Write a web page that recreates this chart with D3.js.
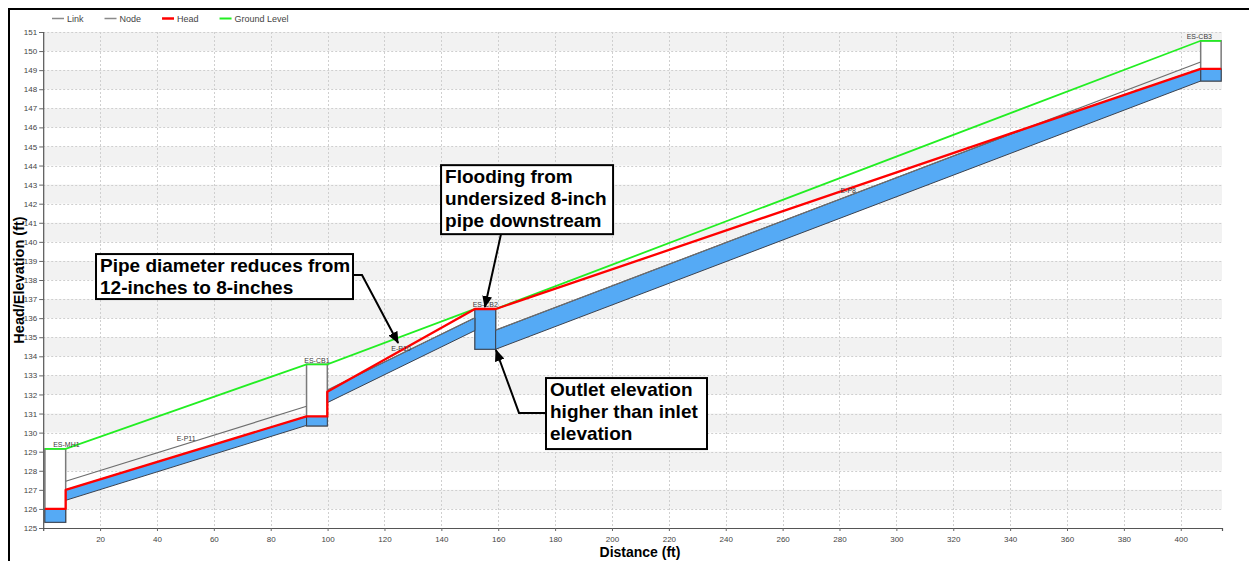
<!DOCTYPE html>
<html>
<head>
<meta charset="utf-8">
<script src="https://cdn.jsdelivr.net/npm/d3@7/dist/d3.min.js"></script>
<style>
  html, body { margin: 0; padding: 0; background: #fff; }
  svg { display: block; font-family: "Liberation Sans", Arial, sans-serif; }
</style>
</head>
<body>
<svg id="chart" width="1249" height="561"></svg>
<script>
// ---- Profile data (distance in ft, elevations in ft) ----
const nodeNames  = ["ES-MH1", "ES-CB1", "ES-CB2", "ES-CB3"];
const nodeStart  = [0.6, 92.6, 151.8, 407.0];
const nodeEnd    = [7.9, 99.9, 159.1, 414.2];
const nodeInvert = [125.3, 130.35, 134.37, 148.43];
const nodeRim    = [129.15, 133.58, 136.48, 150.54];
const nodeHead   = [126.0, 130.85, 136.48, 149.07];

// Links run from the end of node i to the start of node i+1
const linkNames     = ["E-P11", "E-P10", "E-P8"];
const linkInvertIn  = [126.45, 131.57, 134.37];
const linkInvertOut = [130.38, 135.35, 148.43];
const linkDiameter  = [1.0, 0.667, 1.0];   // 12", 8", 12"
const linkHeadIn    = [127.0, 132.14, 136.48];
const linkHeadOut   = [130.85, 136.48, 149.07];

const yTicks = d3.range(125, 152, 1);
const xTicks = d3.range(20, 401, 20);
const xDomain = [0, 414.5];
const yDomain = [125, 151];

const legendItems = [
  { label: "Link",         color: "#8a8a8a", width: 1.5 },
  { label: "Node",         color: "#8a8a8a", width: 1.5 },
  { label: "Head",         color: "#ff0000", width: 2.5 },
  { label: "Ground Level", color: "#22ee22", width: 2 }
];

// Callouts: anchored in chart units (ft); box sizes in px
const notes = [
  { lines: ["Pipe diameter reduces from", "12-inches to 8-inches"],
    at: [18.57, 139.36], w: 257, h: 45, from: "right",
    route: [[112.1, 138.26], [124.8, 134.70]] },
  { lines: ["Flooding from", "undersized 8-inch", "pipe downstream"],
    at: [139.9, 144.02], w: 172, h: 69, from: "bottom",
    route: [[160.97, null], [155.3, 136.58]] },
  { lines: ["Outlet elevation", "higher than inlet", "elevation"],
    at: [176.8, 132.86], w: 161, h: 71, from: "left",
    route: [[167.3, 131.03], [159.2, 134.33]] }
];

// ---- Layout ----
const svg = d3.select("#chart");
const plot = { left: 43.2, right: 1222, top: 32, bottom: 528 };

const x = d3.scaleLinear().domain(xDomain).range([plot.left, plot.right]);
const y = d3.scaleLinear().domain(yDomain).range([plot.bottom, plot.top]);

const BLUE = "#55aaf5";

// outer frame
svg.append("rect")
  .attr("x", 9).attr("y", 9).attr("width", 1300).attr("height", 600)
  .attr("fill", "none").attr("stroke", "#000").attr("stroke-width", 2);

// alternating row bands
const bands = d3.range(126, 151, 2);
svg.append("g").selectAll("rect").data(bands).join("rect")
  .attr("x", plot.left).attr("width", plot.right - plot.left)
  .attr("y", d => y(d + 1)).attr("height", d => y(d) - y(d + 1))
  .attr("fill", "#f2f2f2");

// grid
const grid = svg.append("g").attr("stroke", "#cfcfcf").attr("stroke-width", 1)
  .attr("stroke-dasharray", "2,2");
grid.selectAll(".h").data(yTicks.slice(1)).join("line")
  .attr("x1", plot.left).attr("x2", plot.right)
  .attr("y1", d => Math.round(y(d)) + 0.5).attr("y2", d => Math.round(y(d)) + 0.5);
grid.selectAll(".v").data(xTicks).join("line")
  .attr("y1", plot.top).attr("y2", plot.bottom)
  .attr("x1", d => Math.round(x(d)) + 0.5).attr("x2", d => Math.round(x(d)) + 0.5);

// ---- Build link geometry ----
const links = linkNames.map((name, i) => ({
  name, x0: nodeEnd[i], x1: nodeStart[i + 1],
  inv0: linkInvertIn[i], inv1: linkInvertOut[i],
  crown0: linkInvertIn[i] + linkDiameter[i], crown1: linkInvertOut[i] + linkDiameter[i],
  head0: linkHeadIn[i], head1: linkHeadOut[i]
}));

// water surface inside a pipe is the lower of head and crown
function fillPolygon(l) {
  const top = [];
  const d0 = l.head0 - l.crown0, d1 = l.head1 - l.crown1;
  top.push([l.x0, Math.min(l.head0, l.crown0)]);
  if (d0 * d1 < 0) {
    const t = d0 / (d0 - d1);
    top.push([l.x0 + t * (l.x1 - l.x0), l.crown0 + t * (l.crown1 - l.crown0)]);
  }
  top.push([l.x1, Math.min(l.head1, l.crown1)]);
  return top.concat([[l.x1, l.inv1], [l.x0, l.inv0]]);
}

const nodes = nodeNames.map((name, i) => ({
  name, x0: nodeStart[i], x1: nodeEnd[i],
  inv: nodeInvert[i], rim: nodeRim[i], head: nodeHead[i]
}));

// node boxes
svg.append("g").selectAll("rect").data(nodes).join("rect")
  .attr("x", d => x(d.x0)).attr("width", d => x(d.x1) - x(d.x0))
  .attr("y", d => y(d.rim)).attr("height", d => y(d.inv) - y(d.rim))
  .attr("fill", "#fff").attr("stroke", "#7a7a7a").attr("stroke-width", 1.5);

// water in nodes
svg.append("g").selectAll("rect").data(nodes).join("rect")
  .attr("x", d => x(d.x0)).attr("width", d => x(d.x1) - x(d.x0))
  .attr("y", d => y(Math.min(d.head, d.rim)))
  .attr("height", d => y(d.inv) - y(Math.min(d.head, d.rim)))
  .attr("fill", BLUE).attr("stroke", "#3a4250").attr("stroke-width", 1);

// water in pipes
const lineGen = d3.line().x(d => x(d[0])).y(d => y(d[1]));
svg.append("g").selectAll("path").data(links).join("path")
  .attr("d", d => lineGen(fillPolygon(d)) + "Z")
  .attr("fill", BLUE).attr("stroke", "#3a4250").attr("stroke-width", 1);

// pipe crowns (Link)
svg.append("g").selectAll("line").data(links).join("line")
  .attr("x1", d => x(d.x0)).attr("x2", d => x(d.x1))
  .attr("y1", d => y(d.crown0)).attr("y2", d => y(d.crown1))
  .attr("stroke", "#6e6e6e").attr("stroke-width", 1.2);

// ground level along node rims
const groundPts = [];
nodes.forEach(n => { groundPts.push([n.x0, n.rim]); groundPts.push([n.x1, n.rim]); });
svg.append("path").attr("d", lineGen(groundPts))
  .attr("fill", "none").attr("stroke", "#22ee22").attr("stroke-width", 1.8);

// hydraulic grade (Head): steps up/down at node edges to meet each pipe
const headPath = [];
nodes.forEach((n, i) => {
  headPath.push([n.x0, i > 0 ? links[i - 1].head1 : n.head]);
  headPath.push([n.x0, n.head]);
  headPath.push([n.x1, n.head]);
  if (i < links.length) headPath.push([links[i].x0, links[i].head0]);
});
svg.append("path").attr("d", lineGen(headPath))
  .attr("fill", "none").attr("stroke", "#ff0000").attr("stroke-width", 2.3)
  .attr("stroke-linejoin", "round");

// node labels (kept inside the plot)
svg.append("g").selectAll("text").data(nodes).join("text")
  .attr("y", d => y(d.rim) - 1.5)
  .attr("font-size", 7).attr("fill", "#3a3a3a").attr("text-anchor", "middle")
  .text(d => d.name)
  .each(function (d) {
    const w = this.getComputedTextLength();
    const c = (x(d.x0) + x(d.x1)) / 2;
    const cx = Math.max(plot.left + 10 + w / 2, Math.min(plot.right - 10 - w / 2, c));
    d3.select(this).attr("x", cx);
  });

// link labels at pipe midpoint
svg.append("g").selectAll("text").data(links).join("text")
  .attr("x", d => x((d.x0 + d.x1) / 2))
  .attr("y", d => y((d.crown0 + d.crown1) / 2) - 3)
  .attr("font-size", 7).attr("fill", "#3a3a3a").attr("text-anchor", "middle")
  .text(d => d.name);

// ---- Axes ----
const yAxis = svg.append("g").attr("transform", `translate(${plot.left},0)`)
  .call(d3.axisLeft(y).tickValues(yTicks).tickSize(4).tickPadding(2).tickFormat(d3.format("d")));
const xAxis = svg.append("g").attr("transform", `translate(0,${plot.bottom})`)
  .call(d3.axisBottom(x).tickValues(xTicks).tickSize(3).tickPadding(5).tickFormat(d3.format("d")));
[yAxis, xAxis].forEach(g => {
  g.select(".domain").attr("stroke", "#555").attr("stroke-width", 1.2);
  g.selectAll(".tick line").attr("stroke", "#666");
  g.selectAll(".tick text").attr("fill", "#444").attr("font-size", 8)
    .attr("font-family", "'Liberation Sans', Arial, sans-serif");
});

svg.append("text")
  .attr("transform", `translate(24,${(plot.top + plot.bottom) / 2}) rotate(-90)`)
  .attr("text-anchor", "middle").attr("font-size", 14.5).attr("font-weight", "bold")
  .attr("fill", "#000").text("Head/Elevation (ft)");
svg.append("text")
  .attr("x", 640).attr("y", 557)
  .attr("text-anchor", "middle").attr("font-size", 14).attr("font-weight", "bold")
  .attr("fill", "#000").text("Distance (ft)");

// ---- Legend ----
const legend = svg.append("g").attr("transform", "translate(52,18.5)");
let cursor = 0;
legendItems.forEach(item => {
  legend.append("line").attr("x1", cursor).attr("x2", cursor + 12).attr("y1", 0).attr("y2", 0)
    .attr("stroke", item.color).attr("stroke-width", item.width);
  const t = legend.append("text").attr("x", cursor + 15).attr("y", 3)
    .attr("font-size", 9).attr("fill", "#444").text(item.label);
  cursor += 15 + t.node().getComputedTextLength() + 21;
});

// ---- Callouts ----
const defs = svg.append("defs");
defs.append("marker").attr("id", "arrowhead")
  .attr("viewBox", "0 0 12 10").attr("refX", 11).attr("refY", 5)
  .attr("markerWidth", 12).attr("markerHeight", 10)
  .attr("markerUnits", "userSpaceOnUse").attr("orient", "auto")
  .append("path").attr("d", "M0,0 L12,5 L0,10 Z").attr("fill", "#000");

const callouts = svg.append("g");
notes.forEach(n => {
  const bx = x(n.at[0]), by = y(n.at[1]);
  const pts = n.route.map(p => [x(p[0]), p[1] === null ? null : y(p[1])]);
  let start;
  if (n.from === "right") start = [bx + n.w, pts[0][1]];
  else if (n.from === "left") start = [bx, pts[0][1]];
  else { start = [pts[0][0], by + n.h]; pts.shift(); }
  callouts.append("path")
    .attr("d", d3.line()([start].concat(pts)))
    .attr("fill", "none").attr("stroke", "#000").attr("stroke-width", 2)
    .attr("marker-end", "url(#arrowhead)");

  callouts.append("rect")
    .attr("x", bx).attr("y", by).attr("width", n.w).attr("height", n.h)
    .attr("fill", "#fff").attr("stroke", "#000").attr("stroke-width", 2);
  n.lines.forEach((line, k) => {
    callouts.append("text")
      .attr("x", bx + 4).attr("y", by + 18 + k * 22)
      .attr("font-size", 19).attr("font-weight", "bold").attr("fill", "#000")
      .text(line);
  });
});
</script>
</body>
</html>
